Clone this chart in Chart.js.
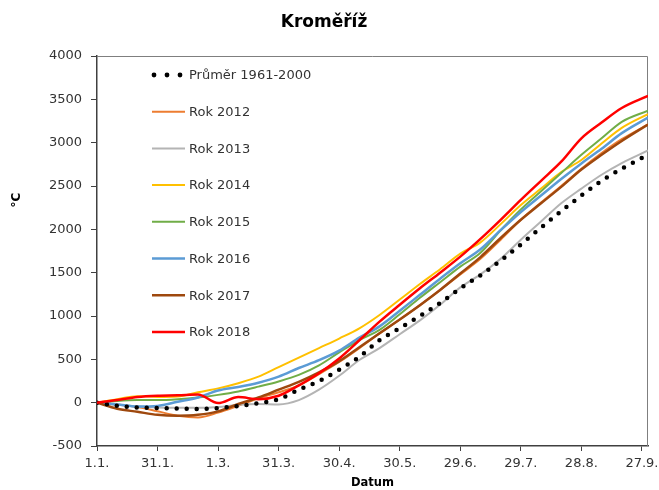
<!DOCTYPE html>
<html>
<head>
<meta charset="utf-8">
<title>Kroměříž</title>
<script src="https://cdn.jsdelivr.net/npm/chart.js@4/dist/chart.umd.min.js"></script>
<style>
  html, body { margin: 0; padding: 0; background: #fff; }
</style>
</head>
<body>
<canvas id="chart" width="659" height="490"></canvas>
<script>
// day of year (leap year count, 1.1. = 0)
const days = [0, 10, 20, 30, 40, 50, 60, 70, 80, 90, 100, 110, 120, 130, 140, 150, 160, 170, 180, 190, 200, 210, 220, 230, 240, 250, 260, 273];
const tickLabels = ['1.1.', '31.1.', '1.3.', '31.3.', '30.4.', '30.5.', '29.6.', '29.7.', '28.8.', '27.9.'];
const yTicks = [-500, 0, 500, 1000, 1500, 2000, 2500, 3000, 3500, 4000];

const prumer = [0, -35, -55, -62, -68, -72, -62, -40, -5, 40, 150, 250, 380, 530, 720, 860, 1000, 1150, 1320, 1470, 1640, 1825, 2020, 2210, 2390, 2560, 2700, 2860];
const rok2012 = [0, -20, -50, -100, -150, -170, -115, -35, 50, 120, 200, 330, 470, 630, 800, 960, 1125, 1300, 1480, 1660, 1880, 2110, 2310, 2500, 2700, 2880, 3040, 3210];
const rok2013 = [0, -25, -45, -55, -60, -60, -50, -25, -15, -20, 30, 150, 310, 492, 630, 790, 950, 1130, 1330, 1480, 1660, 1880, 2090, 2300, 2470, 2630, 2765, 2910];
const rok2014 = [0, 40, 75, 65, 70, 120, 165, 225, 300, 410, 520, 630, 740, 858, 1012, 1190, 1370, 1540, 1720, 1850, 2060, 2280, 2470, 2660, 2800, 2990, 3170, 3330];
const rok2015 = [0, 20, 30, 30, 40, 60, 90, 130, 185, 245, 320, 430, 580, 723, 840, 1020, 1210, 1390, 1570, 1730, 1990, 2230, 2440, 2650, 2860, 3050, 3240, 3370];
const rok2016 = [0, -20, -45, -38, 10, 60, 140, 180, 230, 300, 400, 490, 600, 750, 880, 1060, 1245, 1430, 1608, 1770, 1990, 2200, 2390, 2580, 2760, 2930, 3110, 3290];
const rok2017 = [0, -70, -105, -140, -150, -140, -100, -15, 60, 150, 240, 350, 480, 640, 800, 960, 1125, 1300, 1490, 1680, 1900, 2110, 2300, 2490, 2690, 2860, 3020, 3210];
const rok2018 = [0, 30, 65, 80, 85, 95, -5, 65, 40, 80, 200, 340, 510, 720, 935, 1130, 1320, 1500, 1685, 1890, 2110, 2340, 2560, 2780, 3050, 3232, 3400, 3540];

const FONT = '"DejaVu Sans", Verdana, sans-serif';
const TXT = '#333333';

function line(label, data, color, width, order) {
  return {
    label, data, order,
    borderColor: color,
    backgroundColor: color,
    borderWidth: width,
    pointRadius: 0,
    tension: 0.3,
    cubicInterpolationMode: 'monotone',
    fill: false
  };
}

const datasets = [
  Object.assign(line('Průměr 1961-2000', prumer, '#000000', 4.5, 1), {
    borderDash: [0, 10],
    borderCapStyle: 'round'
  }),
  line('Rok 2012', rok2012, '#ED7D31', 2, 7),
  line('Rok 2013', rok2013, '#B4B4B4', 2, 6),
  line('Rok 2014', rok2014, '#FFC000', 2, 5),
  line('Rok 2015', rok2015, '#70AD47', 2, 4),
  line('Rok 2016', rok2016, '#5B9BD5', 2.5, 3),
  line('Rok 2017', rok2017, '#9E480E', 2.5, 2),
  line('Rok 2018', rok2018, '#FF0000', 2.5, 0)
];

// plot frame (top + right border)
const frame = {
  id: 'frame',
  beforeDatasetsDraw(chart) {
    const { ctx, chartArea: a } = chart;
    ctx.save();
    ctx.strokeStyle = '#7f7f7f';
    ctx.lineWidth = 1;
    ctx.beginPath();
    ctx.moveTo(a.left, a.top + 0.5);
    ctx.lineTo(a.right - 0.5, a.top + 0.5);
    ctx.lineTo(a.right - 0.5, a.bottom);
    ctx.stroke();
    ctx.restore();
  }
};

// legend stacked inside the plot, plus rotated y title
const sideLegend = {
  id: 'sideLegend',
  afterDatasetsDraw(chart) {
    const { ctx, chartArea: a } = chart;
    ctx.save();
    ctx.font = '13px ' + FONT;
    ctx.textBaseline = 'middle';
    ctx.textAlign = 'left';
    chart.data.datasets.forEach((ds, i) => {
      const y = a.top + 19 + i * 36.7;
      const x0 = a.left + 55;
      if (ds.borderDash) {
        ctx.fillStyle = ds.borderColor;
        [0, 13, 26].forEach(dx => {
          ctx.beginPath();
          ctx.arc(x0 + 2 + dx, y, 2.4, 0, Math.PI * 2);
          ctx.fill();
        });
      } else {
        ctx.strokeStyle = ds.borderColor;
        ctx.lineWidth = ds.borderWidth;
        ctx.beginPath();
        ctx.moveTo(x0, y);
        ctx.lineTo(x0 + 33, y);
        ctx.stroke();
      }
      ctx.fillStyle = TXT;
      ctx.fillText(ds.label, x0 + 37, y + 1);
    });
    ctx.restore();

    ctx.save();
    ctx.font = 'bold 12px ' + FONT;
    ctx.fillStyle = '#000';
    ctx.textAlign = 'center';
    ctx.textBaseline = 'middle';
    ctx.translate(17, 200);
    ctx.rotate(-Math.PI / 2);
    ctx.fillText('°C', 0, 0);
    ctx.restore();
  }
};

new Chart(document.getElementById('chart'), {
  type: 'line',
  data: { labels: days, datasets },
  options: {
    responsive: false,
    animation: false,
    layout: { padding: { left: 0, right: 11, top: 0, bottom: 0 } },
    plugins: {
      legend: { display: false },
      tooltip: { enabled: false },
      title: {
        display: true,
        text: 'Kroměříž',
        color: '#000',
        font: { family: FONT, size: 17, weight: 'bold' },
        padding: { top: 12, bottom: 23.6 }
      }
    },
    scales: {
      x: {
        type: 'linear',
        min: 0,
        max: 273,
        ticks: {
          stepSize: 30,
          includeBounds: false,
          autoSkip: false,
          maxRotation: 0,
          padding: 5,
          color: TXT,
          font: { family: FONT, size: 13 },
          callback: v => tickLabels[Math.round(v / 30)] || ''
        },
        grid: { drawOnChartArea: false, tickLength: 5, color: '#404040' },
        border: { color: '#404040', width: 1.5 },
        title: {
          display: true,
          text: 'Datum',
          color: '#000',
          font: { family: FONT, size: 11.5, weight: 'bold' },
          padding: { top: 0, bottom: 0 }
        },
        afterFit: s => { s.height = 44; s.paddingLeft = 0; s.paddingRight = 0; }
      },
      y: {
        min: yTicks[0],
        max: yTicks[yTicks.length - 1],
        ticks: {
          stepSize: 500,
          padding: 9,
          color: TXT,
          font: { family: FONT, size: 13 },
          callback: v => String(v)
        },
        grid: { drawOnChartArea: false, tickLength: 6, color: '#404040' },
        border: { color: '#404040', width: 1.5 },
        afterFit: s => { s.width = 97; }
      }
    }
  },
  plugins: [frame, sideLegend]
});
</script>
</body>
</html>
